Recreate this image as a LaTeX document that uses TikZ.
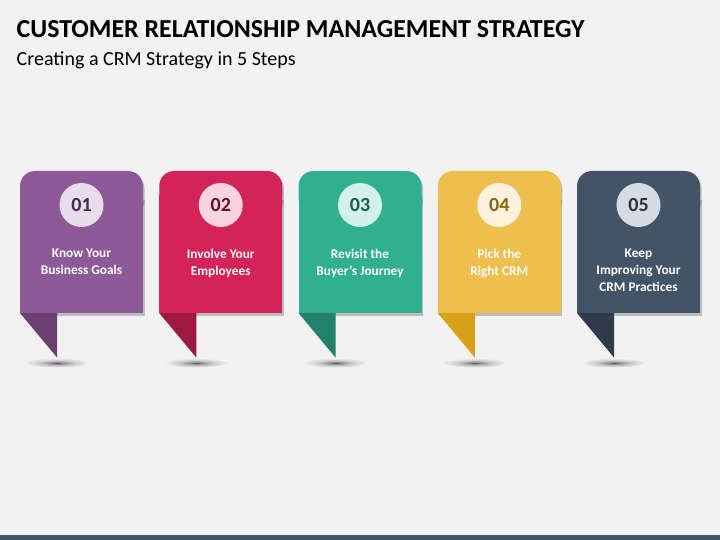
\documentclass[tikz,border=0pt]{standalone}
\usepackage{fontspec}
\setmainfont{Carlito}
\definecolor{bg}{HTML}{F2F2F2}
\definecolor{barc}{HTML}{435368}
\definecolor{mainA}{HTML}{8D5A97}\definecolor{darkA}{HTML}{6B3F72}\definecolor{lightA}{HTML}{E9DCEC}\definecolor{numA}{HTML}{4A2850}
\definecolor{mainB}{HTML}{D42358}\definecolor{darkB}{HTML}{9E1942}\definecolor{lightB}{HTML}{F9D3DF}\definecolor{numB}{HTML}{6B0F2E}
\definecolor{mainC}{HTML}{30B08F}\definecolor{darkC}{HTML}{23806A}\definecolor{lightC}{HTML}{D4F1E9}\definecolor{numC}{HTML}{1A5E4D}
\definecolor{mainD}{HTML}{F0BE4E}\definecolor{darkD}{HTML}{D9A11A}\definecolor{lightD}{HTML}{FDF2DC}\definecolor{numD}{HTML}{8B6515}
\definecolor{mainE}{HTML}{435368}\definecolor{darkE}{HTML}{2F3B4B}\definecolor{lightE}{HTML}{D6DCE5}\definecolor{numE}{HTML}{2A3440}
\pgfdeclareradialshading{tabshadow}{\pgfpoint{0bp}{0bp}}{%
  color(0bp)=(black!65);color(5bp)=(black!40!bg);color(15bp)=(black!15!bg);color(30bp)=(bg!60!white);color(45bp)=(white!80!bg);color(50bp)=(white!80!bg)}
\tikzset{
  cardtext/.style={text=white, font=\fontsize{13.3}{17}\selectfont\bfseries, align=center, inner sep=0pt, anchor=north},
  numtext/.style={font=\fontsize{20}{22}\selectfont\bfseries, inner sep=0pt},
  numcirc/.style={circle, minimum size=44pt, inner sep=0pt},
}
\begin{document}
\begin{tikzpicture}[x=1pt,y=-1pt]
\useasboundingbox (0,0) rectangle (720,540);
\fill[bg] (0,0) rectangle (720,540);
\fill[barc] (0,535) rectangle (720,540);
\node[anchor=base west, inner sep=0pt, font=\fontsize{25.9}{30}\selectfont\bfseries] (title) at (16.5,37.5) {CUSTOMER RELATIONSHIP MANAGEMENT STRATEGY};
\node[anchor=base west, inner sep=0pt, font=\fontsize{20}{24}\selectfont] (sub) at (16.5,66) {Creating a CRM Strategy in 5 Steps};
\foreach \i/\c/\n/\t in {0/A/01/{Know Your\\Business Goals},1/B/02/{Involve Your\\Employees},2/C/03/{Revisit the\\Buyer’s Journey},3/D/04/{Pick the\\Right CRM},4/E/05/{Keep\\Improving Your\\CRM Practices}}{
  \pgfmathsetmacro{\L}{20+139.25*\i}
  \pgfmathsetmacro{\R}{\L+123}
  \pgfmathsetmacro{\T}{\L+37}
  \pgfmathsetmacro{\C}{\L+61.5}
  % ground shadow
  \shade[shading=tabshadow] (\T,363) ellipse [x radius=30, y radius=4.5];
  % card drop shadow
  \fill[black, opacity=0.22] [rounded corners=15] (\L+1.5,173.5) rectangle (\R+1.5,215.5);
  \fill[black, opacity=0.22] (\L+1.5,200) rectangle (\R+1.5,315.5);
  % tab
  \fill[dark\c] (\L,313) -- (\T,313) -- (\T,357.5) -- cycle;
  % card
  \fill[main\c] [rounded corners=15] (\L,171) rectangle (\R,213);
  \fill[main\c] (\L,195) rectangle (\R,313);
  \node[numcirc, fill=light\c] (circ\i) at (\C,205) {};
  \node[numtext, text=num\c] (num\i) at (circ\i.center) {\n};
  \node[cardtext] (txt\i) at (\C,248.5) {\t};
}
\end{tikzpicture}
\end{document}
